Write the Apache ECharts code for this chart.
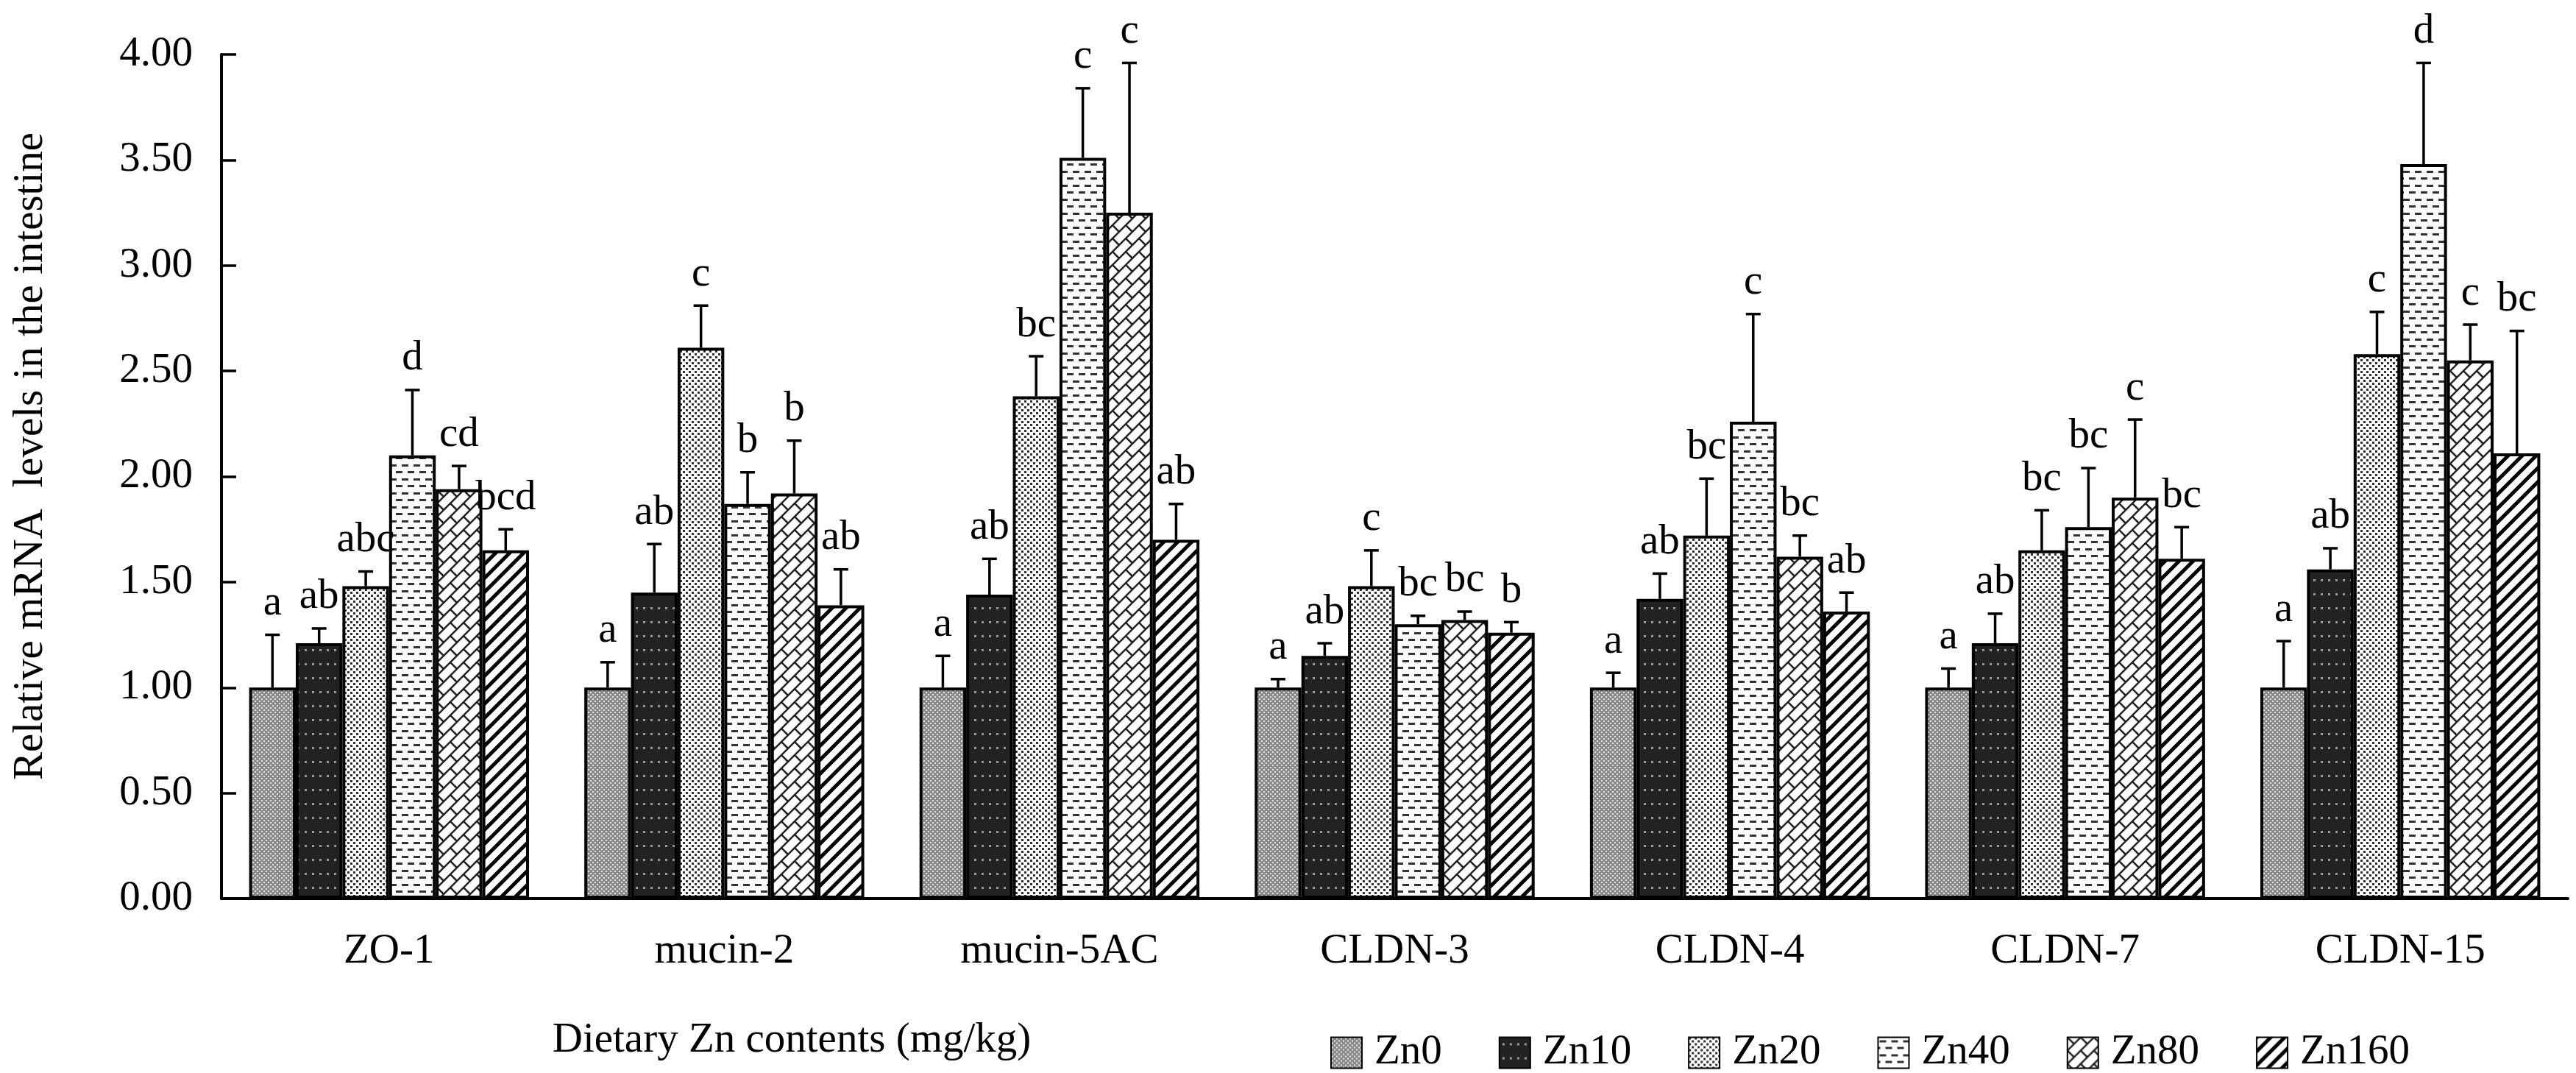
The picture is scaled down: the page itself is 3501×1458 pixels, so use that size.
<!DOCTYPE html>
<html>
<head>
<meta charset="UTF-8">
<title>Relative mRNA levels in the intestine</title>
<style>
  html, body { margin: 0; padding: 0; background: #fff; }
  #chart { width: 3501px; height: 1458px; }
</style>
<script src="https://cdn.jsdelivr.net/npm/echarts@6/dist/echarts.min.js"></script>
</head>
<body>
<div id="chart"></div>
<script>
// categories and groups
var categories = ['ZO-1', 'mucin-2', 'mucin-5AC', 'CLDN-3', 'CLDN-4', 'CLDN-7', 'CLDN-15'];
var groups = ['Zn0', 'Zn10', 'Zn20', 'Zn40', 'Zn80', 'Zn160'];

// means
var zn0   = [1.00, 1.00, 1.00, 1.00, 1.00, 1.00, 1.00];
var zn10  = [1.21, 1.45, 1.44, 1.15, 1.42, 1.21, 1.56];
var zn20  = [1.48, 2.61, 2.38, 1.48, 1.72, 1.65, 2.58];
var zn40  = [2.10, 1.87, 3.51, 1.30, 2.26, 1.76, 3.48];
var zn80  = [1.94, 1.92, 3.25, 1.32, 1.62, 1.90, 2.55];
var zn160 = [1.65, 1.39, 1.70, 1.26, 1.36, 1.61, 2.11];

// error bar lengths (SD)
var zn0Sd   = [0.25, 0.12, 0.15, 0.04, 0.07, 0.09, 0.22];
var zn10Sd  = [0.07, 0.23, 0.17, 0.06, 0.12, 0.14, 0.10];
var zn20Sd  = [0.07, 0.20, 0.19, 0.17, 0.27, 0.19, 0.20];
var zn40Sd  = [0.31, 0.15, 0.33, 0.04, 0.51, 0.28, 0.48];
var zn80Sd  = [0.11, 0.25, 0.71, 0.04, 0.10, 0.37, 0.17];
var zn160Sd = [0.10, 0.17, 0.17, 0.05, 0.09, 0.15, 0.58];

// significance letters
var zn0Sig   = ['a', 'a', 'a', 'a', 'a', 'a', 'a'];
var zn10Sig  = ['ab', 'ab', 'ab', 'ab', 'ab', 'ab', 'ab'];
var zn20Sig  = ['abc', 'c', 'bc', 'c', 'bc', 'bc', 'c'];
var zn40Sig  = ['d', 'b', 'c', 'bc', 'c', 'bc', 'd'];
var zn80Sig  = ['cd', 'b', 'c', 'bc', 'bc', 'c', 'c'];
var zn160Sig = ['bcd', 'ab', 'ab', 'b', 'ab', 'bc', 'bc'];

var yTicks = [0, 0.5, 1, 1.5, 2, 2.5, 3, 3.5, 4];

var means = [zn0, zn10, zn20, zn40, zn80, zn160];
var sds = [zn0Sd, zn10Sd, zn20Sd, zn40Sd, zn80Sd, zn160Sd];
var sigs = [zn0Sig, zn10Sig, zn20Sig, zn40Sig, zn80Sig, zn160Sig];

var FONT = '"Liberation Serif", "Times New Roman", serif';
var FS = 57;
var GAP = 0.165;

// fill patterns
function tile(w, h, draw) {
  var c = document.createElement('canvas');
  c.width = w; c.height = h;
  var g = c.getContext('2d');
  draw(g, w, h);
  return { image: c, repeat: 'repeat' };
}

var patterns = [
  tile(6, 6, function (g) {
    g.fillStyle = '#8a8a8a'; g.fillRect(0, 0, 6, 6);
    g.fillStyle = '#e6e6e6'; g.fillRect(1, 1, 2, 2); g.fillRect(4, 4, 2, 2);
  }),
  tile(10, 19, function (g) {
    g.fillStyle = '#222'; g.fillRect(0, 0, 10, 19);
    g.fillStyle = '#9a9a9a'; g.fillRect(4, 8, 3, 3);
  }),
  tile(8, 8, function (g) {
    g.fillStyle = '#fff'; g.fillRect(0, 0, 8, 8);
    g.fillStyle = '#333'; g.fillRect(0, 0, 3, 3); g.fillRect(4, 4, 3, 3);
  }),
  tile(16, 19, function (g) {
    g.fillStyle = '#fff'; g.fillRect(0, 0, 16, 19);
    g.fillStyle = '#333';
    g.fillRect(2, 4, 9, 3);
    g.fillRect(10, 13, 6, 3); g.fillRect(0, 13, 3, 3);
  }),
  tile(18, 18, function (g) {
    g.fillStyle = '#fff'; g.fillRect(0, 0, 18, 18);
    g.strokeStyle = '#222'; g.lineWidth = 2.5;
    g.beginPath();
    g.moveTo(0, 18); g.lineTo(18, 0);
    g.moveTo(-2, 2); g.lineTo(2, -2);
    g.moveTo(16, 20); g.lineTo(20, 16);
    g.moveTo(0, 0); g.lineTo(9, 9);
    g.stroke();
  }),
  tile(19, 19, function (g) {
    g.fillStyle = '#fff'; g.fillRect(0, 0, 19, 19);
    g.strokeStyle = '#000'; g.lineWidth = 5;
    g.beginPath();
    g.moveTo(-1, 20); g.lineTo(20, -1);
    g.moveTo(-4, 4); g.lineTo(4, -4);
    g.moveTo(15, 23); g.lineTo(23, 15);
    g.stroke();
  })
];

var series = [];
groups.forEach(function (name, i) {
  series.push({
    name: name,
    type: 'bar',
    data: means[i],
    barGap: '0%',
    barCategoryGap: (GAP * 100) + '%',
    itemStyle: { color: patterns[i], borderColor: '#000', borderWidth: 4 },
    emphasis: { disabled: true }
  });
});

groups.forEach(function (name, i) {
  series.push({
    name: name + ' err',
    type: 'custom',
    z: 5,
    data: categories.map(function (c, k) { return [k, means[i][k], sds[i][k]]; }),
    renderItem: function (params, api) {
      var k = api.value(0), m = api.value(1), sd = api.value(2);
      var base = api.coord([k, m]);
      var top = api.coord([k, m + sd]);
      var band = api.size([1, 0])[0];
      var total = band * (1 - GAP);
      var bw = total / groups.length;
      var x = base[0] - total / 2 + (i + 0.5) * bw;
      return {
        type: 'group',
        children: [
          { type: 'line', shape: { x1: x, y1: base[1], x2: x, y2: top[1] }, style: { stroke: '#000', lineWidth: 3.5 } },
          { type: 'line', shape: { x1: x - 10, y1: top[1], x2: x + 10, y2: top[1] }, style: { stroke: '#000', lineWidth: 3.5 } },
          {
            type: 'text',
            style: {
              x: x, y: top[1] - 14,
              text: sigs[i][params.dataIndex],
              textAlign: 'center', textVerticalAlign: 'bottom',
              fontSize: FS, fontFamily: FONT, fill: '#000'
            }
          }
        ]
      };
    }
  });
});

var chart = echarts.init(document.getElementById('chart'));
chart.setOption({
  animation: false,
  backgroundColor: '#fff',
  grid: { left: 301, right: 11, top: 74, bottom: 237, containLabel: false },
  legend: {
    data: groups,
    icon: 'rect',
    left: 1803,
    top: 1397,
    itemWidth: 42,
    itemHeight: 42,
    itemGap: 77,
    textStyle: { fontSize: FS, fontFamily: FONT, color: '#000', padding: [0, 0, 0, 12] }
  },
  xAxis: {
    type: 'category',
    data: categories,
    axisLine: { lineStyle: { color: '#000', width: 4 } },
    axisTick: { inside: true, length: 20, lineStyle: { color: '#000', width: 3.5 } },
    axisLabel: { margin: 44, fontSize: FS, fontFamily: FONT, color: '#000' },
    splitLine: { show: false }
  },
  yAxis: {
    type: 'value',
    min: yTicks[0],
    max: yTicks[yTicks.length - 1],
    interval: 0.5,
    axisLine: { show: true, lineStyle: { color: '#000', width: 4 } },
    axisTick: { show: true, inside: true, length: 20, lineStyle: { color: '#000', width: 3.5 } },
    axisLabel: {
      margin: 39, fontSize: FS, fontFamily: FONT, color: '#000',
      formatter: function (v) { return v.toFixed(2); }
    },
    splitLine: { show: false }
  },
  graphic: [
    {
      type: 'text',
      x: 42, y: 620,
      rotation: Math.PI / 2,
      style: {
        text: 'Relative mRNA  levels in the intestine',
        textAlign: 'center', textVerticalAlign: 'middle',
        fontSize: FS, fontFamily: FONT, fill: '#000'
      }
    },
    {
      type: 'text',
      x: 1076, y: 1414,
      style: {
        text: 'Dietary Zn contents (mg/kg)',
        textAlign: 'center', textVerticalAlign: 'middle',
        fontSize: FS, fontFamily: FONT, fill: '#000'
      }
    }
  ],
  series: series
});
</script>
</body>
</html>
